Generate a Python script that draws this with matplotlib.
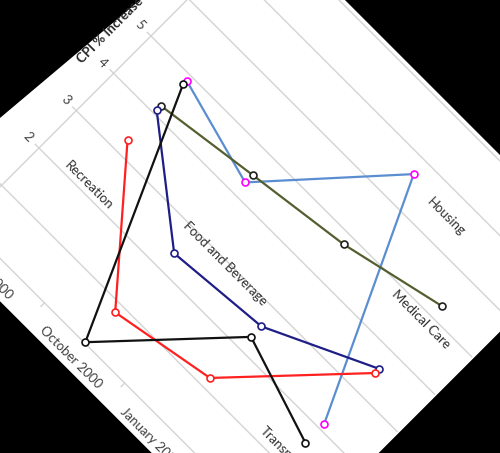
import numpy as np
import matplotlib
matplotlib.use('Agg')
import matplotlib.pyplot as plt
from matplotlib.transforms import Affine2D
from matplotlib.patches import Polygon

# CPI % increase by quarter
quarters = ['July 2000', 'October 2000', 'January 2001', 'April 2001']
housing = [4.88, 4.30, 6.67, 2.12]
medical = [4.20, 4.50, 4.79, 5.28]
food = [4.08, 2.40, 2.59, 3.60]
recreation = [3.30, 0.82, 1.21, 3.49]
transport = [4.79, 0.02, 2.31, 1.62]
yTicks = [0, 1, 2, 3, 4, 5, 6, 7, 8]

plt.rcParams['font.family'] = ['Lato', 'DejaVu Sans']

fig = plt.figure(figsize=(5, 4.53), dpi=100)
fig.patch.set_facecolor('black')
ax = fig.add_axes([0, 0, 1, 1])
ax.set_xlim(0, 500)
ax.set_ylim(453, 0)
ax.axis('off')

# the whole chart sits on a page turned 45 degrees clockwise
c = 1 / np.sqrt(2)
tilt = Affine2D().scale(113.4, 52.8).translate(188.9, -182.7)
tilt = tilt + Affine2D(np.array([[c, c, 0], [c, -c, 0], [0, 0, 1]]))
T = tilt + ax.transData

page = Polygon([(-1.028, -0.574), (3.52, -0.574), (3.52, 8.08), (-0.683, 8.08)],
               closed=True, transform=T, facecolor='white', edgecolor='none', zorder=0)
ax.add_patch(page)

x = np.arange(len(quarters))
left, right = -0.5, len(quarters) - 0.5

# gridlines and axes
for v in yTicks:
    ax.plot([left - 0.045, right], [v, v], transform=T, color='#d4d4d4', lw=1.0, zorder=1)
    ax.text(-0.634, v, str(v), transform=T, rotation=-45, rotation_mode='anchor',
            ha='center', va='center', fontsize=9.5, color='#404040', zorder=3)
ax.plot([left, left], [0, yTicks[-1]], transform=T, color='#d4d4d4', lw=1.0, zorder=1)
for b in np.arange(left, right + 0.01, 1.0):
    ax.plot([b, b], [0, -0.095], transform=T, color='#d4d4d4', lw=1.0, zorder=1)
for i, q in enumerate(quarters):
    ax.text(i, -0.38, q, transform=T, rotation=-45, rotation_mode='anchor',
            ha='center', va='center', fontsize=9.5, color='#404040', zorder=3)

ax.text(-0.79, 3.70, 'CPI % Increase', transform=T, rotation=45, rotation_mode='anchor',
        ha='left', va='center', fontsize=9.5, fontweight='bold', color='#262626', zorder=3)

# series
series = [
    (housing, '#5b8ed1', '#ff00ff'),
    (medical, '#545f30', '#202020'),
    (food, '#1e1e86', '#1e1e86'),
    (recreation, '#ff2020', '#ff2020'),
    (transport, '#111111', '#111111'),
]
for vals, lc, mc in series:
    ax.plot(x, vals, transform=T, color=lc, lw=1.6, marker='o', markersize=5,
            markerfacecolor='white', markeredgecolor=mc, markeredgewidth=1.2, zorder=4)

# series names written on the chart
names = [
    ('Recreation', 0.04, 2.17, 'center'),
    ('Food and Beverage', 1.38, 2.95, 'center'),
    ('Housing', 2.47, 6.53, 'center'),
    ('Medical Care', 2.95, 4.81, 'center'),
    ('Transportation', 2.64, 1.22, 'left'),
]
for name, nx, ny, ha in names:
    ax.text(nx, ny, name, transform=T, rotation=-45, rotation_mode='anchor',
            ha=ha, va='center', fontsize=9.5, color='#303030', zorder=5)

fig.savefig('out.png', dpi=100, facecolor='black')
